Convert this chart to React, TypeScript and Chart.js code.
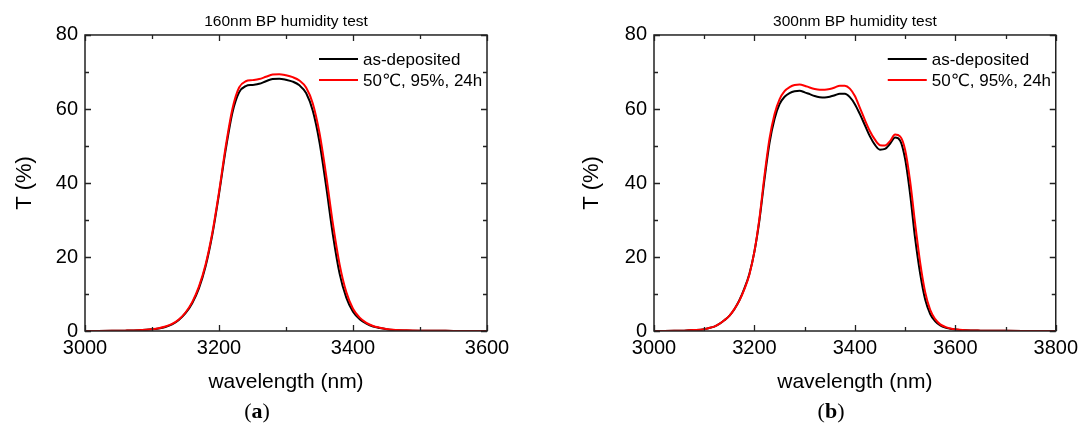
import React, { useEffect, useRef } from 'react';
import { Chart, registerables } from 'chart.js';

Chart.register(...registerables);

// ---------- data ----------
const waveA = [3000, 3020, 3040, 3060, 3080, 3100, 3110, 3120, 3130, 3140, 3150, 3160, 3170, 3180, 3190, 3200, 3210, 3220, 3230, 3240, 3250, 3260, 3270, 3280, 3290, 3300, 3310, 3320, 3330, 3340, 3350, 3360, 3370, 3380, 3390, 3400, 3410, 3420, 3430, 3440, 3450, 3460, 3480, 3500, 3550, 3600];
const asDepositedA = [0, 0.02, 0.05, 0.1, 0.2, 0.45, 0.7, 1.1, 1.8, 3.0, 4.8, 7.5, 11.5, 17.5, 26, 37, 49, 59, 64.5, 66.2, 66.5, 66.8, 67.5, 68.1, 68.2, 67.9, 67.4, 66.4, 64.3, 59.5, 51, 39, 26, 15.5, 9, 5.2, 3.2, 2.0, 1.2, 0.8, 0.5, 0.3, 0.15, 0.08, 0.03, 0];
const humidityA = [0, 0.02, 0.05, 0.1, 0.22, 0.5, 0.75, 1.2, 1.9, 3.1, 5.0, 7.8, 12, 18, 26.5, 37.5, 49.8, 60, 65.8, 67.5, 67.8, 68.1, 68.7, 69.3, 69.4, 69.1, 68.6, 67.7, 65.8, 61.5, 53.5, 42, 29, 18, 10.5, 6, 3.6, 2.2, 1.35, 0.9, 0.55, 0.35, 0.17, 0.09, 0.03, 0];

const waveB = [3000, 3020, 3040, 3060, 3080, 3100, 3110, 3120, 3130, 3140, 3150, 3160, 3170, 3180, 3190, 3200, 3210, 3220, 3230, 3240, 3250, 3260, 3270, 3280, 3290, 3300, 3310, 3320, 3330, 3340, 3350, 3360, 3370, 3380, 3390, 3400, 3410, 3420, 3430, 3440, 3450, 3460, 3470, 3480, 3490, 3500, 3510, 3520, 3530, 3540, 3550, 3560, 3570, 3580, 3590, 3600, 3620, 3650, 3700, 3750, 3800];
const asDepositedB = [0, 0.02, 0.05, 0.1, 0.25, 0.5, 0.8, 1.2, 1.9, 2.9, 4.1, 5.9, 8.3, 11.5, 15.5, 21.5, 30, 41, 50.8, 57.3, 61.3, 63.3, 64.3, 64.8, 64.9, 64.5, 64.0, 63.5, 63.2, 63.1, 63.3, 63.7, 64.1, 64.1, 63.2, 61.3, 58.6, 55.6, 52.6, 50.3, 49.0, 49.2, 50.6, 52.3, 51.5, 46.5, 37, 25, 15.5, 8.5, 4.6, 2.6, 1.5, 0.9, 0.6, 0.4, 0.2, 0.1, 0.04, 0.02, 0];
const humidityB = [0, 0.02, 0.05, 0.1, 0.25, 0.5, 0.8, 1.2, 1.9, 2.9, 4.1, 5.9, 8.2, 11.3, 15.3, 21.5, 30.5, 42, 52, 58.6, 62.6, 64.8, 65.9, 66.5, 66.6, 66.3, 65.8, 65.4, 65.2, 65.2, 65.4, 65.8, 66.3, 66.3, 65.5, 63.5, 60.3, 57, 54, 51.7, 50.2, 50.1, 51.3, 53.1, 52.6, 49, 40.5, 29, 18.5, 10.5, 5.7, 3.2, 1.8, 1.1, 0.7, 0.45, 0.22, 0.1, 0.04, 0.02, 0];

const seriesLabels = ['as-deposited', '50\u2103, 95%, 24h'];
const panelTitles = ['160nm BP humidity test', '300nm BP humidity test'];
const panelTags = ['a', 'b'];
const xTitle = 'wavelength (nm)';
const yTitle = 'T (%)';
const xRangeA = [3000, 3600];
const xRangeB = [3000, 3800];
const yRange = [0, 80];
const xMajorStep = 200;
const yMajorStep = 20;
const xMinorStep = 100;
const yMinorStep = 10;

const FONT = '"Liberation Sans", Arial, "DejaVu Sans", sans-serif';
Chart.defaults.font.family = FONT;
Chart.defaults.color = '#000';

const boxTicks = {
  id: 'boxTicks',
  afterDatasetsDraw(chart: any) {
    const { ctx, chartArea, scales } = chart;
    const { left, right, top, bottom } = chartArea;
    const x = scales.x, y = scales.y;
    ctx.save();
    ctx.strokeStyle = '#222';
    ctx.lineWidth = 1.5;
    ctx.strokeRect(left, top, right - left, bottom - top);
    ctx.lineWidth = 1.3;
    ctx.beginPath();
    for (let v = x.min; v <= x.max + 1e-6; v += xMinorStep) {
      const px = Math.round(x.getPixelForValue(v)) + 0.5;
      const len = Math.abs((v - x.min) % xMajorStep) < 1e-6 ? 6 : 4;
      ctx.moveTo(px, bottom); ctx.lineTo(px, bottom - len);
      ctx.moveTo(px, top); ctx.lineTo(px, top + len);
    }
    for (let v = y.min; v <= y.max + 1e-6; v += yMinorStep) {
      const py = Math.round(y.getPixelForValue(v)) + 0.5;
      const len = Math.abs((v - y.min) % yMajorStep) < 1e-6 ? 6 : 4;
      ctx.moveTo(left, py); ctx.lineTo(left + len, py);
      ctx.moveTo(right, py); ctx.lineTo(right - len, py);
    }
    ctx.stroke();
    ctx.restore();
  },
};

const insideLegend = {
  id: 'insideLegend',
  afterDraw(chart: any) {
    const { ctx, chartArea } = chart;
    const textX = chartArea.right - 124;
    ctx.save();
    ctx.font = '17px ' + FONT;
    ctx.textBaseline = 'middle';
    ctx.textAlign = 'left';
    chart.data.datasets.forEach((ds: any, i: number) => {
      const yy = chartArea.top + 24 + i * 21;
      ctx.strokeStyle = ds.borderColor;
      ctx.lineWidth = 2;
      ctx.beginPath();
      ctx.moveTo(textX - 44, yy);
      ctx.lineTo(textX - 5, yy);
      ctx.stroke();
      ctx.fillStyle = '#000';
      ctx.fillText(ds.label, textX, yy + 1);
    });
    ctx.restore();
  },
};

function Panel(props: { wave: number[]; a: number[]; b: number[]; xRange: number[]; title: string; yWidth: number; yTitlePad: number; width: number; padRight: number }) {
  const ref = useRef<HTMLCanvasElement | null>(null);
  useEffect(() => {
    if (!ref.current) return;
    const { wave, a, b, xRange, title, yWidth, yTitlePad, padRight } = props;
    const chart = new Chart(ref.current, {
      type: 'line',
      data: {
        datasets: [
          {
            label: seriesLabels[0],
            data: wave.map((w, i) => ({ x: w, y: a[i] })),
            borderColor: '#000000',
            borderWidth: 2,
            pointRadius: 0,
            cubicInterpolationMode: 'monotone',
            order: 2,
          },
          {
            label: seriesLabels[1],
            data: wave.map((w, i) => ({ x: w, y: b[i] })),
            borderColor: '#ff0000',
            borderWidth: 2,
            pointRadius: 0,
            cubicInterpolationMode: 'monotone',
            order: 1,
          },
        ],
      },
      options: {
        responsive: false,
        animation: false,
        layout: { padding: { left: 0, top: 0, bottom: 0, right: padRight } },
        plugins: {
          legend: { display: false },
          tooltip: { enabled: false },
          title: {
            display: true,
            text: title,
            fullSize: false,
            color: '#000',
            font: { size: 15.5, weight: 'normal', lineHeight: 1.16 },
            padding: { top: 13, bottom: 4 },
          },
        },
        scales: {
          x: {
            type: 'linear',
            min: xRange[0],
            max: xRange[1],
            grid: { display: false, drawTicks: false },
            border: { display: false },
            ticks: {
              stepSize: xMajorStep,
              font: { size: 20 },
              color: '#000',
              padding: 5,
              maxRotation: 0,
              callback: (v: any) => String(v),
            },
            title: { display: true, text: xTitle, font: { size: 21 }, color: '#000', padding: { top: 0, bottom: 32 } },
            afterFit: (s: any) => { s.height = 96; },
          },
          y: {
            type: 'linear',
            min: yRange[0],
            max: yRange[1],
            grid: { display: false, drawTicks: false },
            border: { display: false },
            ticks: { stepSize: yMajorStep, font: { size: 20 }, color: '#000', padding: 7, callback: (v: any) => String(v) },
            title: { display: true, text: yTitle, font: { size: 22 }, color: '#000', padding: { top: yTitlePad, bottom: 0 } },
            afterFit: (s: any) => { s.width = yWidth; },
          },
        },
      },
      plugins: [boxTicks, insideLegend],
    } as any);
    return () => chart.destroy();
  }, []);
  return <canvas ref={ref} width={props.width} height={427} style={{ width: props.width, height: 427, display: 'block' }} />;
}

const tagStyle: React.CSSProperties = {
  position: 'absolute',
  width: 60,
  textAlign: 'center',
  top: 400,
  fontFamily: '"Liberation Serif", "DejaVu Serif", serif',
  fontSize: 22,
  lineHeight: '22px',
  color: '#000',
};

export default function App() {
  return (
    <div style={{ position: 'absolute', left: 0, top: 0, width: 1083, height: 427, background: '#fff', overflow: 'hidden' }}>
      <div style={{ position: 'absolute', left: 0, top: 0 }}>
        <Panel wave={waveA} a={asDepositedA} b={humidityA} xRange={xRangeA} title={panelTitles[0]} yWidth={85} yTitlePad={12} width={560} padRight={73} />
      </div>
      <div style={{ position: 'absolute', left: 560, top: 0 }}>
        <Panel wave={waveB} a={asDepositedB} b={humidityB} xRange={xRangeB} title={panelTitles[1]} yWidth={94} yTitlePad={19} width={523} padRight={27} />
      </div>
      <div style={{ ...tagStyle, left: 227 }}>(<b>{panelTags[0]}</b>)</div>
      <div style={{ ...tagStyle, left: 801 }}>(<b>{panelTags[1]}</b>)</div>
    </div>
  );
}
